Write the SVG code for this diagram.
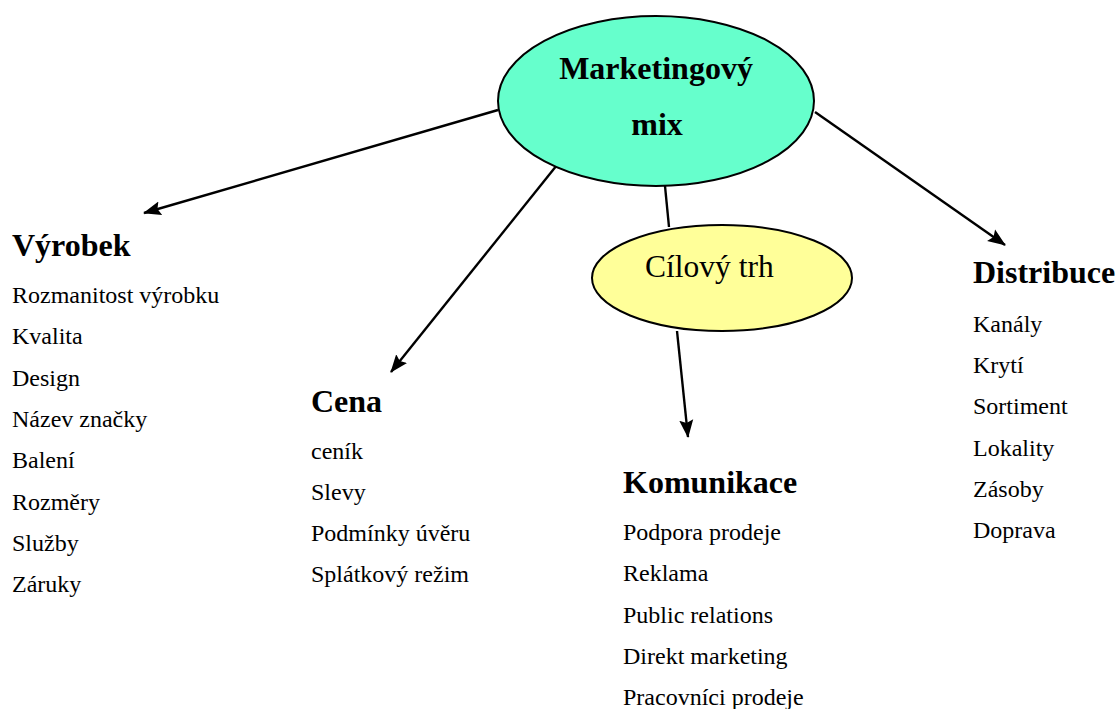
<svg xmlns="http://www.w3.org/2000/svg" width="1118" height="709" viewBox="0 0 1118 709">
<style>
.node{stroke:#000;stroke-width:2}
.conn{stroke:#000;stroke-width:2.4;fill:none}
.h{font-family:"Liberation Serif","Times New Roman",serif;font-weight:bold;font-size:32px;fill:#000}
.t{font-family:"Liberation Serif","Times New Roman",serif;font-size:24px;fill:#000}
.c{font-family:"Liberation Serif","Times New Roman",serif;font-size:31.5px;fill:#000}
</style>
<defs>
<marker id="arr" markerUnits="userSpaceOnUse" markerWidth="20" markerHeight="16" refX="17" refY="8" orient="auto">
<path d="M0,1 L18,8 L0,15 L3,8 Z" fill="#000"/>
</marker>
</defs>
<rect width="1118" height="709" fill="#fff"/>
<g id="connectors">
<line class="conn" x1="498" y1="110" x2="144" y2="213" marker-end="url(#arr)"/>
<line class="conn" x1="557" y1="165" x2="391" y2="372" marker-end="url(#arr)"/>
<line class="conn" x1="665" y1="186" x2="669" y2="227"/>
<line class="conn" x1="677" y1="331" x2="688" y2="437" marker-end="url(#arr)"/>
<line class="conn" x1="815" y1="112" x2="1005" y2="245" marker-end="url(#arr)"/>
</g>
<g id="marketingovy-mix">
<ellipse class="node" cx="656" cy="101" rx="158" ry="85" fill="#66FFCC"/>
<text class="h" x="656" y="79" text-anchor="middle">Marketingový</text>
<text class="h" x="657" y="135" text-anchor="middle">mix</text>
</g>
<g id="cilovy-trh">
<ellipse class="node" cx="722" cy="278" rx="130" ry="53" fill="#FFFF99"/>
<text class="c" x="645" y="277">Cílový trh</text>
</g>
<g id="vyrobek">
<text class="h" x="12" y="256">Výrobek</text>
<text class="t" x="12" y="303">Rozmanitost výrobku</text>
<text class="t" x="12" y="344">Kvalita</text>
<text class="t" x="12" y="386">Design</text>
<text class="t" x="12" y="427">Název značky</text>
<text class="t" x="12" y="468">Balení</text>
<text class="t" x="12" y="510">Rozměry</text>
<text class="t" x="12" y="551">Služby</text>
<text class="t" x="12" y="592">Záruky</text>
</g>
<g id="cena">
<text class="h" x="311" y="412">Cena</text>
<text class="t" x="311" y="459">ceník</text>
<text class="t" x="311" y="500">Slevy</text>
<text class="t" x="311" y="541">Podmínky úvěru</text>
<text class="t" x="311" y="582">Splátkový režim</text>
</g>
<g id="komunikace">
<text class="h" x="623" y="493">Komunikace</text>
<text class="t" x="623" y="540">Podpora prodeje</text>
<text class="t" x="623" y="581">Reklama</text>
<text class="t" x="623" y="623">Public relations</text>
<text class="t" x="623" y="664">Direkt marketing</text>
<text class="t" x="623" y="705">Pracovníci prodeje</text>
</g>
<g id="distribuce">
<text class="h" x="973" y="283">Distribuce</text>
<text class="t" x="973" y="332">Kanály</text>
<text class="t" x="973" y="373">Krytí</text>
<text class="t" x="973" y="414">Sortiment</text>
<text class="t" x="973" y="456">Lokality</text>
<text class="t" x="973" y="497">Zásoby</text>
<text class="t" x="973" y="538">Doprava</text>
</g>
</svg>
